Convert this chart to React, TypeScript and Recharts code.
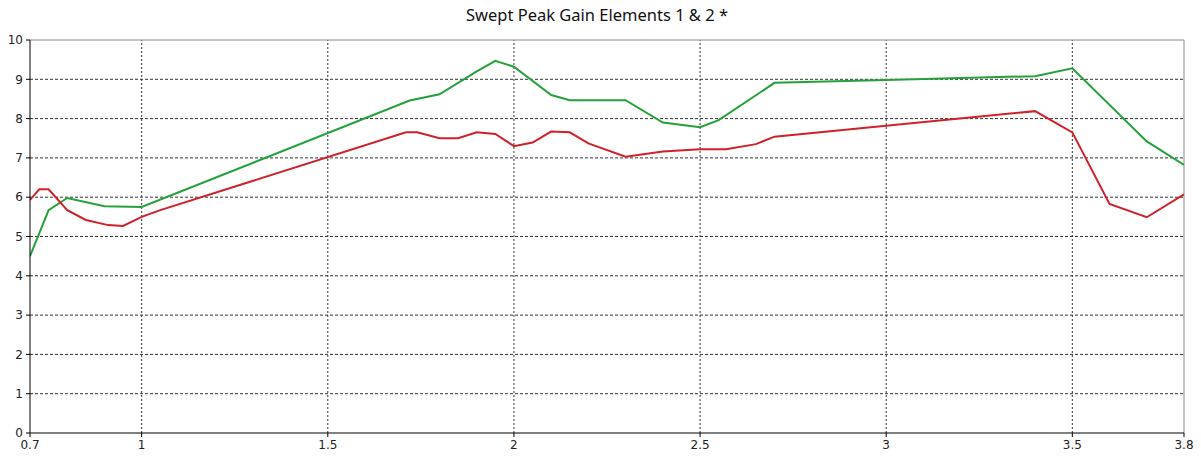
import React from 'react';
import { LineChart, Line, XAxis, YAxis, ReferenceLine } from 'recharts';

// frequency (GHz) vs gain
const greenX = [0.7, 0.75, 0.8, 0.9, 1.0, 1.72, 1.8, 1.9, 1.95, 2.0, 2.1, 2.15, 2.3, 2.4, 2.5, 2.55, 2.7, 3.0, 3.4, 3.5, 3.7, 3.8];
const greenY = [4.5, 5.67, 5.98, 5.77, 5.75, 8.46, 8.62, 9.2, 9.47, 9.32, 8.6, 8.47, 8.47, 7.9, 7.78, 7.96, 8.91, 8.98, 9.08, 9.28, 7.42, 6.82];

const redX = [0.7, 0.725, 0.75, 0.8, 0.85, 0.91, 0.95, 1.0, 1.05, 1.71, 1.74, 1.8, 1.85, 1.9, 1.95, 2.0, 2.05, 2.1, 2.15, 2.2, 2.3, 2.4, 2.5, 2.57, 2.65, 2.7, 3.4, 3.5, 3.6, 3.7, 3.8];
const redY = [5.93, 6.2, 6.2, 5.67, 5.42, 5.29, 5.27, 5.5, 5.67, 7.65, 7.65, 7.5, 7.5, 7.65, 7.61, 7.3, 7.39, 7.67, 7.65, 7.37, 7.03, 7.16, 7.22, 7.22, 7.35, 7.54, 8.19, 7.65, 5.83, 5.49, 6.07];

const xTicks = [0.7, 1, 1.5, 2, 2.5, 3, 3.5, 3.8];
const yTicks = [0, 1, 2, 3, 4, 5, 6, 7, 8, 9, 10];
const gridX = [1, 1.5, 2, 2.5, 3, 3.5];
const gridY = [1, 2, 3, 4, 5, 6, 7, 8, 9];

const greenData = greenX.map((x, i) => ({ x, y: greenY[i] }));
const redData = redX.map((x, i) => ({ x, y: redY[i] }));

const tickStyle = { fill: '#222', fontSize: 12, fontFamily: '"DejaVu Sans", Verdana, sans-serif' };

export default function App() {
  return (
    <div style={{ position: 'relative', width: 1201, height: 460, background: '#fff' }}>
      <style>{'body{margin:0}'}</style>
      <div
        style={{
          position: 'absolute', top: 3, left: 597, transform: 'translateX(-50%)',
          fontFamily: '"Noto Sans", sans-serif', fontSize: 16.5, color: '#111', whiteSpace: 'nowrap',
        }}
      >
        Swept Peak Gain Elements 1 &amp; 2 *
      </div>
      <LineChart width={1201} height={460} margin={{ top: 40, right: 17, left: 0, bottom: 0 }}>
        <XAxis
          type="number" dataKey="x" domain={[0.7, 3.8]} ticks={xTicks} interval={0}
          allowDataOverflow height={27} tick={tickStyle} tickSize={4} tickMargin={3}
          axisLine={{ stroke: '#000' }} tickLine={{ stroke: '#000' }}
        />
        <YAxis
          type="number" dataKey="y" domain={[0, 10]} ticks={yTicks} interval={0}
          width={30} tick={tickStyle} tickSize={4} tickMargin={3}
          axisLine={{ stroke: '#000' }} tickLine={{ stroke: '#000' }}
        />
        {gridY.map(v => (
          <ReferenceLine key={'gy' + v} y={v} stroke="#333" strokeDasharray="3 2" />
        ))}
        {gridX.map(v => (
          <ReferenceLine key={'gx' + v} x={v} stroke="#333" strokeDasharray="2 2" />
        ))}
        <ReferenceLine y={10} stroke="#888" />
        <ReferenceLine x={3.8} stroke="#888" />
        <Line data={greenData} dataKey="y" type="linear" stroke="#26a03c" strokeWidth={2} dot={false} isAnimationActive={false} />
        <Line data={redData} dataKey="y" type="linear" stroke="#d0202a" strokeWidth={2} dot={false} isAnimationActive={false} />
      </LineChart>
    </div>
  );
}
